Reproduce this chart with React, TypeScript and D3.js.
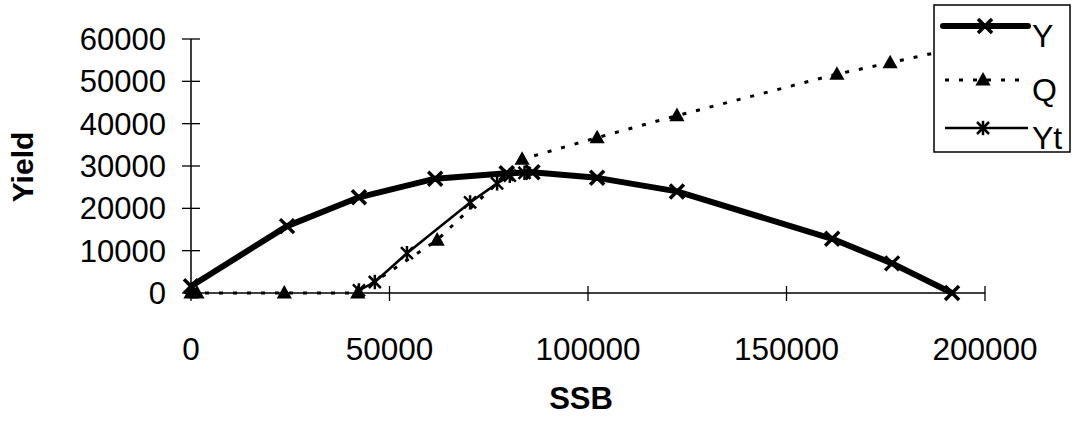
import React from "react";
import * as d3 from "d3";

const ySeries: [number, number][] = [
  [0, 1600], [24200, 15800], [42300, 22600], [61500, 27000], [79500, 28300],
  [86000, 28500], [102300, 27200], [122400, 24000], [161500, 12800], [176600, 7000], [191700, 0],
];
const qSeries: [number, number][] = [
  [0, 0], [1500, 0], [23500, 0], [42000, 0], [62000, 12500], [83400, 31600],
  [102300, 36700], [122400, 41900], [162700, 51700], [176100, 54400], [191700, 57600],
];
const ytSeries: [number, number][] = [
  [42300, 600], [46300, 2600], [54400, 9400], [70300, 21400], [77100, 25900], [80300, 27700], [84000, 28400],
];
const xTicks = [0, 50000, 100000, 150000, 200000];
const yTicks = [0, 10000, 20000, 30000, 40000, 50000, 60000];
const legendNames = ["Y", "Q", "Yt"];

const FONT = "'Liberation Sans', Arial, sans-serif";

function XMark({ x, y, s, w }: { x: number; y: number; s: number; w: number }) {
  return (
    <g stroke="#000" strokeWidth={w} strokeLinecap="butt">
      <line x1={x - s} y1={y - s} x2={x + s} y2={y + s} />
      <line x1={x - s} y1={y + s} x2={x + s} y2={y - s} />
    </g>
  );
}
function Star({ x, y, s, w }: { x: number; y: number; s: number; w: number }) {
  return (
    <g stroke="#000" strokeWidth={w}>
      <line x1={x - s} y1={y - s} x2={x + s} y2={y + s} />
      <line x1={x - s} y1={y + s} x2={x + s} y2={y - s} />
      <line x1={x} y1={y - s * 1.2} x2={x} y2={y + s * 1.2} />
    </g>
  );
}
function Tri({ x, y, s }: { x: number; y: number; s: number }) {
  return <path d={`M${x},${y - s}L${x + s * 0.95},${y + s * 0.7}L${x - s * 0.95},${y + s * 0.7}Z`} fill="#000" />;
}

export default function App() {
  const x = d3.scaleLinear().domain([0, 200000]).range([191, 985]);
  const y = d3.scaleLinear().domain([0, 60000]).range([293, 39]);
  const line = d3.line<[number, number]>().x((d) => x(d[0])).y((d) => y(d[1]));

  const lgX = 934, lgY = 5, lgW = 136, lgH = 147;
  const rows = [26, 80, 128];

  return (
    <svg width={1072} height={427} style={{ position: "absolute", left: 0, top: 0, background: "#fff" }} fontFamily={FONT}>
      {/* axes */}
      <line x1={x(0)} y1={y(60000)} x2={x(0)} y2={y(0)} stroke="#000" strokeWidth={1.5} />
      <line x1={x(0)} y1={y(0)} x2={x(200000)} y2={y(0)} stroke="#000" strokeWidth={1.5} />
      {yTicks.map((t) => (
        <g key={"y" + t}>
          <line x1={x(0) - 9} x2={x(0) + 9} y1={y(t)} y2={y(t)} stroke="#000" strokeWidth={1.3} />
          <text x={166} y={y(t)} dy="0.36em" textAnchor="end" fontSize={31}>{d3.format("d")(t)}</text>
        </g>
      ))}
      {xTicks.map((t) => (
        <g key={"x" + t}>
          <line x1={x(t)} x2={x(t)} y1={y(0) - 7} y2={y(0) + 8} stroke="#000" strokeWidth={1.3} />
          <text x={x(t)} y={360} textAnchor="middle" fontSize={31.5}>{d3.format("d")(t)}</text>
        </g>
      ))}
      <text x={581} y={409} textAnchor="middle" fontSize={31} fontWeight="bold">SSB</text>
      <text transform="translate(33,167) rotate(-90)" textAnchor="middle" fontSize={30} fontWeight="bold">Yield</text>

      {/* series */}
      <path d={line(qSeries) || ""} fill="none" stroke="#000" strokeWidth={3} strokeDasharray="4 10" />
      {qSeries.map((d, i) => <Tri key={"q" + i} x={x(d[0])} y={y(d[1])} s={8} />)}
      <path d={line(ytSeries) || ""} fill="none" stroke="#000" strokeWidth={2.5} />
      {ytSeries.map((d, i) => <Star key={"t" + i} x={x(d[0])} y={y(d[1])} s={6} w={2.5} />)}
      <path d={line(ySeries) || ""} fill="none" stroke="#000" strokeWidth={6} strokeLinejoin="round" />
      {ySeries.map((d, i) => <XMark key={"y" + i} x={x(d[0])} y={y(d[1])} s={7} w={3.5} />)}

      {/* legend */}
      <rect x={lgX} y={lgY} width={lgW} height={lgH} fill="#fff" stroke="#000" strokeWidth={1.5} />
      {legendNames.map((n, i) => {
        const ly = rows[i];
        const cx = 985;
        return (
          <g key={n}>
            {i === 0 && (
              <>
                <line x1={943} x2={1028} y1={ly} y2={ly} stroke="#000" strokeWidth={6} strokeLinecap="round" />
                <XMark x={cx} y={ly} s={7} w={3.5} />
              </>
            )}
            {i === 1 && (
              <>
                <line x1={945} x2={1028} y1={ly} y2={ly} stroke="#000" strokeWidth={3} strokeDasharray="4 10" />
                <Tri x={cx - 2} y={ly} s={8} />
              </>
            )}
            {i === 2 && (
              <>
                <line x1={945} x2={1028} y1={ly} y2={ly} stroke="#000" strokeWidth={2.5} />
                <Star x={cx - 2} y={ly} s={6} w={2.5} />
              </>
            )}
            <text x={1032} y={ly + 21} fontSize={32}>{n}</text>
          </g>
        );
      })}
    </svg>
  );
}
